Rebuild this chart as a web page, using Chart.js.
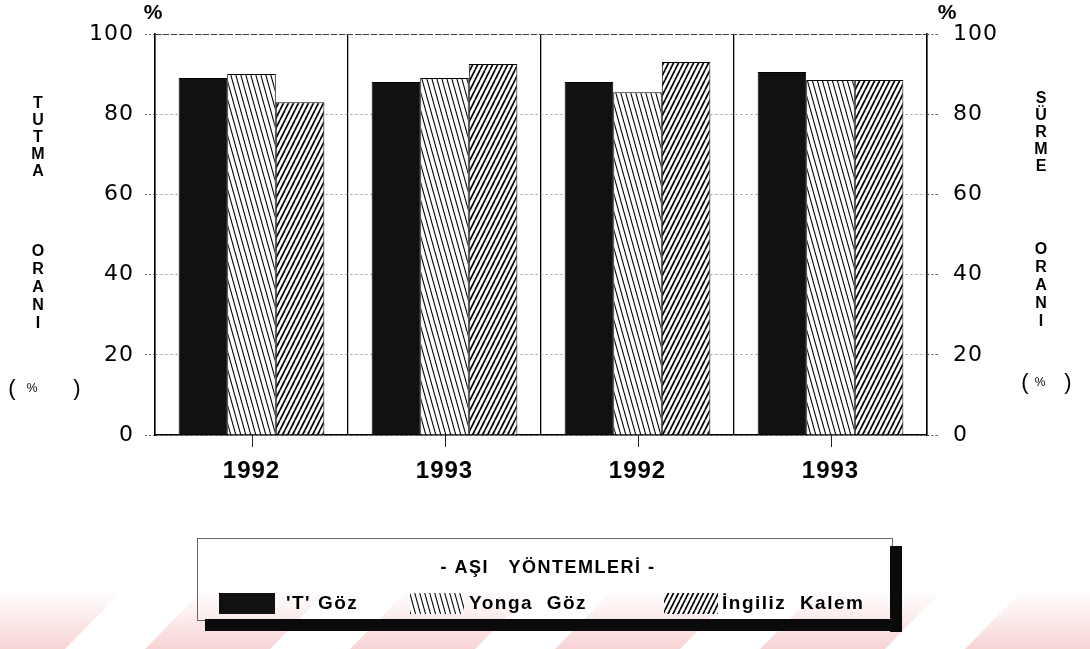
<!DOCTYPE html>
<html>
<head>
<meta charset="utf-8">
<script src="https://cdn.jsdelivr.net/npm/chart.js@4.4.1/dist/chart.umd.min.js"></script>
<style>
  html, body { margin: 0; padding: 0; background: #fff; }
  #wrap { width: 1090px; height: 649px; }
</style>
</head>
<body>
<div id="wrap"><canvas id="c" width="1090" height="649"></canvas></div>
<script>
// Grafting success by method and year
const years = ['1992', '1993', '1992', '1993'];
const tGoz = [89, 88, 88, 90.5];
const yongaGoz = [90, 89, 85.5, 88.5];
const ingilizKalem = [83, 92.5, 93, 88.5];
const yTicks = [0, 20, 40, 60, 80, 100];
const seriesNames = ["'T' Göz", 'Yonga  Göz', 'İngiliz  Kalem'];
const legendTitle = '- AŞI   YÖNTEMLERİ -';
const leftTitle = ['TUTMA', 'ORANI'];
const rightTitle = ['SÜRME', 'ORANI'];

// hatch fills built from small repeating tiles
function hatch(w, h, lw, segs) {
  const c = document.createElement('canvas');
  c.width = w; c.height = h;
  const g = c.getContext('2d');
  g.fillStyle = '#fff';
  g.fillRect(0, 0, w, h);
  g.strokeStyle = '#000';
  g.lineWidth = lw;
  g.beginPath();
  segs.forEach(([x1, y1, x2, y2]) => { g.moveTo(x1, y1); g.lineTo(x2, y2); });
  g.stroke();
  return g.createPattern(c, 'repeat');
}
// steep "\" lines, fine and sparse
const lightHatch = hatch(5, 18, 1.1, [[0, 0, 5, 18], [-5, 0, 0, 18], [5, 0, 10, 18]]);
// "/" lines, heavier
const denseHatch = hatch(5, 10, 1.7, [[0, 10, 5, 0], [-5, 10, 0, 0], [5, 10, 10, 0]]);

function stack(ctx, word, x, y0, step) {
  [...word].forEach((ch, i) => ctx.fillText(ch, x, y0 + i * step));
}

const decorations = {
  id: 'decorations',
  beforeDraw(chart) {
    const { ctx, width, height } = chart;
    ctx.save();
    ctx.fillStyle = '#fff';
    ctx.fillRect(0, 0, width, height);
    // faint pink slanted bands along the bottom edge
    const g = ctx.createLinearGradient(0, 588, 0, height);
    g.addColorStop(0, 'rgba(235,140,140,0)');
    g.addColorStop(1, 'rgba(228,110,110,0.30)');
    ctx.fillStyle = g;
    for (let x0 = -60; x0 < width; x0 += 205) {
      ctx.beginPath();
      ctx.moveTo(x0, height);
      ctx.lineTo(x0 + 125, height);
      ctx.lineTo(x0 + 185, 588);
      ctx.lineTo(x0 + 60, 588);
      ctx.closePath();
      ctx.fill();
    }
    ctx.restore();
    ctx.letterSpacing = '1px';
  },
  afterDraw(chart) {
    const { ctx, chartArea: a, scales } = chart;
    ctx.save();
    ctx.letterSpacing = '0px';

    // dashed top edge of the frame
    ctx.strokeStyle = '#444';
    ctx.lineWidth = 1.2;
    ctx.setLineDash([6, 2]);
    ctx.beginPath();
    ctx.moveTo(a.left, a.top + 0.5);
    ctx.lineTo(a.right, a.top + 0.5);
    ctx.stroke();
    ctx.setLineDash([]);

    // short tick under each year
    ctx.strokeStyle = '#222';
    ctx.lineWidth = 1;
    years.forEach((_, i) => {
      const x = Math.round(scales.x.getPixelForValue(i)) + 0.5;
      ctx.beginPath();
      ctx.moveTo(x, a.bottom);
      ctx.lineTo(x, a.bottom + 12);
      ctx.stroke();
    });

    // % units above both axes
    ctx.fillStyle = '#000';
    ctx.textAlign = 'center';
    ctx.textBaseline = 'middle';
    ctx.font = 'bold 21px "Liberation Sans"';
    ctx.fillText('%', a.left - 2, 13);
    ctx.fillText('%', a.right + 20, 13);

    // stacked axis titles
    ctx.font = 'bold 16px "Liberation Sans"';
    stack(ctx, leftTitle[0], 38, 104, 17);
    stack(ctx, leftTitle[1], 38, 252, 18);
    stack(ctx, rightTitle[0], 1041, 99, 17);
    stack(ctx, rightTitle[1], 1041, 250, 18);
    ctx.font = '22px "Liberation Sans"';
    ctx.fillText('(', 12, 389);
    ctx.fillText(')', 77, 389);
    ctx.fillText('(', 1025, 383);
    ctx.fillText(')', 1068, 383);
    ctx.font = '12px "Liberation Sans"';
    ctx.fillText('%', 32, 389);
    ctx.fillText('%', 1040, 383);

    // legend box with heavy shadow
    const bx = 197, by = 538, bw = 695, bh = 82;
    ctx.strokeStyle = '#666';
    ctx.lineWidth = 1;
    ctx.strokeRect(bx + 0.5, by + 0.5, bw, bh);
    ctx.fillStyle = '#0a0a0a';
    ctx.fillRect(bx + bw - 2, by + 8, 12, bh + 4);
    ctx.fillRect(bx + 8, by + bh - 1, bw + 2, 12);

    ctx.fillStyle = '#000';
    ctx.font = 'bold 18px "Liberation Sans"';
    ctx.letterSpacing = '1.5px';
    ctx.fillText(legendTitle, 548, 568);

    const items = [
      { sx: 219, sw: 56, tx: 286 },
      { sx: 410, sw: 54, tx: 469 },
      { sx: 664, sw: 54, tx: 722 }
    ];
    ctx.textAlign = 'left';
    ctx.font = 'bold 19px "Liberation Sans"';
    chart.data.datasets.forEach((ds, i) => {
      const it = items[i];
      ctx.fillStyle = ds.backgroundColor;
      ctx.fillRect(it.sx, 593, it.sw, 21);
      ctx.fillStyle = '#000';
      ctx.fillText(ds.label, it.tx, 604);
    });
    ctx.restore();
  }
};

const yTickOpts = {
  color: '#000',
  font: { family: 'DejaVu Sans', size: 22 }
};

new Chart(document.getElementById('c'), {
  type: 'bar',
  data: {
    labels: years,
    datasets: [
      { label: seriesNames[0], data: tGoz, backgroundColor: '#111', borderColor: '#000', borderWidth: 1 },
      { label: seriesNames[1], data: yongaGoz, backgroundColor: lightHatch, borderColor: '#000', borderWidth: 1 },
      { label: seriesNames[2], data: ingilizKalem, backgroundColor: denseHatch, borderColor: '#000', borderWidth: 1 }
    ]
  },
  options: {
    responsive: false,
    animation: false,
    devicePixelRatio: 1,
    layout: { padding: { left: 0, right: 0, top: 34, bottom: 154 } },
    datasets: { bar: { categoryPercentage: 0.755, barPercentage: 1 } },
    plugins: { legend: { display: false }, tooltip: { enabled: false } },
    scales: {
      x: {
        grid: { offset: true, color: '#000', lineWidth: 1.3, drawTicks: false },
        border: { color: '#000', width: 1.5 },
        ticks: { color: '#000', padding: 22, font: { family: 'Liberation Sans', weight: 'bold', size: 24 } },
        afterFit(s) { s.height = 60; }
      },
      y: {
        position: 'left',
        min: 0, max: 100,
        afterBuildTicks(s) { s.ticks = yTicks.map(v => ({ value: v })); },
        grid: { color: '#999', lineWidth: 1, tickLength: 10, tickColor: '#555', tickBorderDash: [2, 2] },
        border: { color: '#000', width: 1.5, dash: [2, 3] },
        ticks: Object.assign({ padding: 11 }, yTickOpts),
        afterFit(s) { s.width = 155; }
      },
      y2: {
        position: 'right',
        min: 0, max: 100,
        afterBuildTicks(s) { s.ticks = yTicks.map(v => ({ value: v })); },
        grid: { drawOnChartArea: false, tickLength: 12, tickColor: '#555', tickBorderDash: [2, 2] },
        border: { color: '#000', width: 1.5 },
        ticks: Object.assign({ padding: 14 }, yTickOpts),
        afterFit(s) { s.width = 163; }
      }
    }
  },
  plugins: [decorations]
});
</script>
</body>
</html>
